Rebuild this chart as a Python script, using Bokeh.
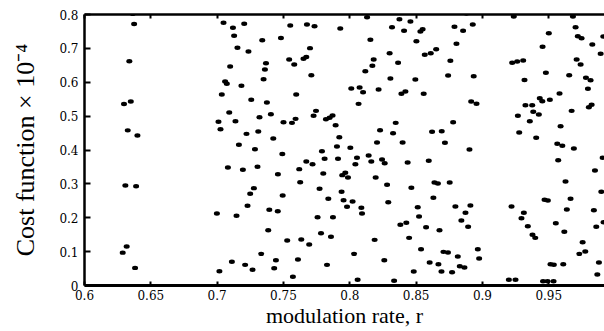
import math
from bokeh.plotting import figure
from bokeh.models import Range1d, FixedTicker, LinearAxis, ColumnDataSource
from bokeh.embed import file_html
from bokeh.resources import INLINE

# ---- data ----
x_ticks = [0.6, 0.65, 0.7, 0.75, 0.8, 0.85, 0.9, 0.95]
x_tick_labels = ["0.6", "0.65", "0.7", "0.75", "0.8", "0.85", "0.9", "0.95"]
y_ticks = [0, 0.1, 0.2, 0.3, 0.4, 0.5, 0.6, 0.7, 0.8]
y_tick_labels = ["0", "0.1", "0.2", "0.3", "0.4", "0.5", "0.6", "0.7", "0.8"]

r_vals = [
    0.6364, 0.6374, 0.6338, 0.6298, 0.6349, 0.6326, 0.6399, 0.6308, 0.6389, 0.6318, 0.6288, 0.6381,
    0.7048, 0.7119, 0.7204, 0.7128, 0.7340, 0.7481, 0.7153, 0.7236, 0.7368, 0.7360, 0.7098, 0.7060,
    0.7073, 0.7183, 0.7350, 0.7035, 0.7257, 0.7375, 0.7091, 0.7405, 0.7319, 0.7010, 0.7138, 0.7025,
    0.7221, 0.7310, 0.7423, 0.7164, 0.7285, 0.7491,
    0.7081, 0.7194, 0.7304, 0.7458, 0.7277, 0.7249, 0.7494, 0.7229, 0.7393, 0.7457, 0.6998, 0.7146,
    0.7385, 0.7528, 0.7332, 0.7111, 0.7211, 0.7443, 0.7017, 0.7267, 0.7430,
    0.7551, 0.7677, 0.7734, 0.7928, 0.7700, 0.7543, 0.7581, 0.7651, 0.7672, 0.7710, 0.8117, 0.7596,
    0.8011, 0.8074, 0.8100, 0.8066, 0.7745, 0.7727, 0.7820, 0.7848, 0.7870, 0.7893, 0.7500, 0.7564,
    0.7591, 0.7921, 0.7790, 0.7903, 0.8004,
    0.7672, 0.7719, 0.7810, 0.7911, 0.8054, 0.8042, 0.7619, 0.7800, 0.7943, 0.7966, 0.7986, 0.7626,
    0.7772, 0.7938, 0.7838, 0.7953, 0.8021, 0.7979, 0.8087, 0.8092, 0.7757, 0.7873, 0.7783, 0.7858,
    0.7634, 0.7694, 0.8032, 0.7609, 0.7828, 0.7571, 0.8059,
    0.8130, 0.8374, 0.8457, 0.8318, 0.8409, 0.8532, 0.8549, 0.8155, 0.8502, 0.8300, 0.8180, 0.8170,
    0.8364, 0.8565, 0.8610, 0.8651, 0.8306, 0.8494, 0.8217, 0.8389, 0.8419, 0.8557, 0.8346, 0.8228,
    0.8326, 0.8620, 0.8693, 0.8205, 0.8398, 0.8717, 0.8142,
    0.8162, 0.8243, 0.8263, 0.8436, 0.8595, 0.8195, 0.8281, 0.8464, 0.8638, 0.8664, 0.8630, 0.8290,
    0.8512, 0.8522, 0.8381, 0.8426, 0.8575, 0.8676, 0.8187, 0.8447, 0.8537, 0.8706, 0.8740, 0.8260,
    0.8602, 0.8668, 0.8482, 0.8691, 0.8334,
    0.8879, 0.9236, 0.8789, 0.8854, 0.8927, 0.8804, 0.8758, 0.9224, 0.9262, 0.9307, 0.8741, 0.8934,
    0.9317, 0.8915, 0.8955, 0.9267, 0.8779, 0.9277, 0.8902,
    0.8753, 0.8796, 0.8909, 0.8872, 0.8841, 0.8892, 0.9219, 0.8814, 0.8965, 0.8975, 0.8829, 0.8864,
    0.8771, 0.9199, 0.9249,
    0.9682, 0.9500, 0.9702, 0.9719, 0.9747, 0.9911, 0.9828, 0.9453, 0.9891, 0.9710, 0.9740, 0.9478,
    0.9654, 0.9780, 0.9815, 0.9795, 0.9581, 0.9432, 0.9451, 0.9508, 0.9324, 0.9375, 0.9802, 0.9823,
    0.9383, 0.9425, 0.9672, 0.9357, 0.9589, 0.9405, 0.9564, 0.9602, 0.9689,
    0.9571, 0.9906, 0.9848, 0.9626, 0.9896, 0.9468, 0.9493, 0.9664, 0.9636, 0.9840, 0.9312, 0.9294,
    0.9342, 0.9553, 0.9858, 0.9913, 0.9617, 0.9377, 0.9398, 0.9755, 0.9730, 0.9775, 0.9878, 0.9513,
    0.9538, 0.9609, 0.9866, 0.9457, 0.9491, 0.9536,
]

cost_vals = [
    0.802, 0.772, 0.662, 0.536, 0.543, 0.458, 0.443, 0.295, 0.293, 0.115, 0.097, 0.052,
    0.7755, 0.7607, 0.7725, 0.7371, 0.7241, 0.7306, 0.7018, 0.6908, 0.6563, 0.6377, 0.6466, 0.6022,
    0.5954, 0.5895, 0.6090, 0.5638, 0.5482, 0.5402, 0.5106, 0.5056, 0.4968, 0.4832, 0.4849, 0.4613,
    0.4477, 0.4545, 0.4340, 0.4154, 0.4024, 0.3882,
    0.3483, 0.3415, 0.3504, 0.3286, 0.2873, 0.2708, 0.2658, 0.2353, 0.2235, 0.2193, 0.2125, 0.2058,
    0.1632, 0.1328, 0.0935, 0.0699, 0.0610, 0.0746, 0.0422, 0.0463, 0.0511,
    0.7675, 0.7705, 0.7655, 0.7587, 0.7006, 0.6672, 0.6525, 0.6693, 0.6746, 0.6208, 0.6326, 0.5638,
    0.5815, 0.5845, 0.5706, 0.5363, 0.5156, 0.5009, 0.4908, 0.4950, 0.5018, 0.4731, 0.4820, 0.4802,
    0.4920, 0.4378, 0.3965, 0.4103, 0.4068,
    0.3660, 0.3581, 0.3740, 0.3740, 0.3770, 0.3581, 0.3434, 0.3307, 0.3257, 0.3328, 0.3189, 0.3050,
    0.2855, 0.2767, 0.2559, 0.2518, 0.2480, 0.2323, 0.2294, 0.2125, 0.2016, 0.2016, 0.1543, 0.1437,
    0.1357, 0.1210, 0.0935, 0.0767, 0.0610, 0.0257, 0.0168,
    0.7920, 0.7861, 0.7793, 0.7625, 0.7519, 0.7498, 0.7566, 0.7253, 0.7212, 0.6858, 0.6672, 0.6486,
    0.6575, 0.6811, 0.6858, 0.6976, 0.6111, 0.6081, 0.5786, 0.5659, 0.5727, 0.5659, 0.4802, 0.4584,
    0.4495, 0.4537, 0.4554, 0.4221, 0.4221, 0.4216, 0.3838,
    0.3660, 0.3720, 0.3610, 0.3631, 0.3681, 0.3189, 0.2973, 0.2885, 0.3041, 0.3012, 0.2589, 0.2459,
    0.2311, 0.2037, 0.1792, 0.1851, 0.1721, 0.1632, 0.1348, 0.1407, 0.1071, 0.0994, 0.0973, 0.0746,
    0.0679, 0.0629, 0.0413, 0.0413, 0.0139,
    0.8030, 0.7941, 0.7637, 0.7519, 0.7705, 0.7136, 0.6634, 0.6575, 0.6613, 0.6643, 0.6199, 0.6179,
    0.6066, 0.5432, 0.5364, 0.5009, 0.4820, 0.4516, 0.4015,
    0.3041, 0.2332, 0.2362, 0.2146, 0.1919, 0.1733, 0.2332, 0.0856, 0.1071, 0.0797, 0.0570, 0.0531,
    0.0393, 0.0168, 0.0168,
    0.7941, 0.7448, 0.7625, 0.7359, 0.7300, 0.7351, 0.7114, 0.7047, 0.6841, 0.6672, 0.6525, 0.6279,
    0.6208, 0.6131, 0.6061, 0.5807, 0.5668, 0.5529, 0.5441, 0.5482, 0.5322, 0.5322, 0.5263, 0.5334,
    0.5127, 0.5047, 0.5156, 0.4849, 0.4702, 0.4360, 0.4183, 0.4124, 0.4044,
    0.3699, 0.3770, 0.3396, 0.3071, 0.2767, 0.2530, 0.2509, 0.2559, 0.2244, 0.2223, 0.2146, 0.1987,
    0.1751, 0.1839, 0.1733, 0.1869, 0.1585, 0.1496, 0.1407, 0.1277, 0.0935, 0.1003, 0.0679, 0.0629,
    0.0611, 0.0629, 0.0325, 0.0127, 0.0127, 0.0127,
]

x_label = "modulation rate, r"
y_label = "Cost function × 10⁻⁴"

SERIF = "Liberation Serif"
TICK_FONT = "DejaVu Serif"

p = figure(
    width=604, height=331,
    output_backend="svg", toolbar_location=None,
    x_range=Range1d(0.6, 0.992), y_range=Range1d(0.0, 0.8),
    min_border_left=84, min_border_right=0, min_border_top=14, min_border_bottom=46,
    background_fill_color="white", border_fill_color="white",
)
p.outline_line_color = None
p.xgrid.visible = False
p.ygrid.visible = False

src = ColumnDataSource(data=dict(r=r_vals, c=cost_vals))
p.ellipse(x="r", y="c", width=6.0, height=4.4, width_units="screen", height_units="screen",
          fill_color="black", line_color=None, source=src)

def style_axis(ax, tick_in, line_w):
    ax.axis_line_color = "black"
    ax.axis_line_width = line_w
    ax.major_tick_in = tick_in
    ax.major_tick_out = 0
    ax.major_tick_line_width = 2
    ax.major_tick_line_color = "black"
    ax.minor_tick_in = 0
    ax.minor_tick_out = 0
    ax.major_label_text_font = TICK_FONT
    ax.major_label_text_font_size = "12px"
    ax.major_label_text_color = "black"

xa = p.xaxis[0]
xa.ticker = FixedTicker(ticks=x_ticks)
xa.major_label_overrides = {t: s for t, s in zip(x_ticks, x_tick_labels)}
style_axis(xa, 4, 3)
xa.major_label_standoff = 4
xa.axis_label = x_label
xa.axis_label_text_font = SERIF
xa.axis_label_text_font_size = "22px"
xa.axis_label_text_font_style = "normal"
xa.axis_label_text_color = "black"
xa.axis_label_standoff = 0

ya = p.yaxis[0]
ya.ticker = FixedTicker(ticks=y_ticks)
ya.major_label_overrides = {t: s for t, s in zip(y_ticks, y_tick_labels)}
style_axis(ya, 6, 2.5)
ya.major_label_standoff = 6
ya.axis_label = y_label
ya.axis_label_text_font = SERIF
ya.axis_label_text_font_size = "26px"
ya.axis_label_text_font_style = "normal"
ya.axis_label_text_color = "black"
ya.axis_label_standoff = 16

# top frame line with inward ticks (no labels)
top = LinearAxis(ticker=FixedTicker(ticks=x_ticks))
style_axis(top, 4, 2.5)
top.major_label_overrides = {t: "" for t in x_ticks}
top.major_label_standoff = 0
p.add_layout(top, "above")

open("out.html", "w").write(file_html(p, INLINE))
